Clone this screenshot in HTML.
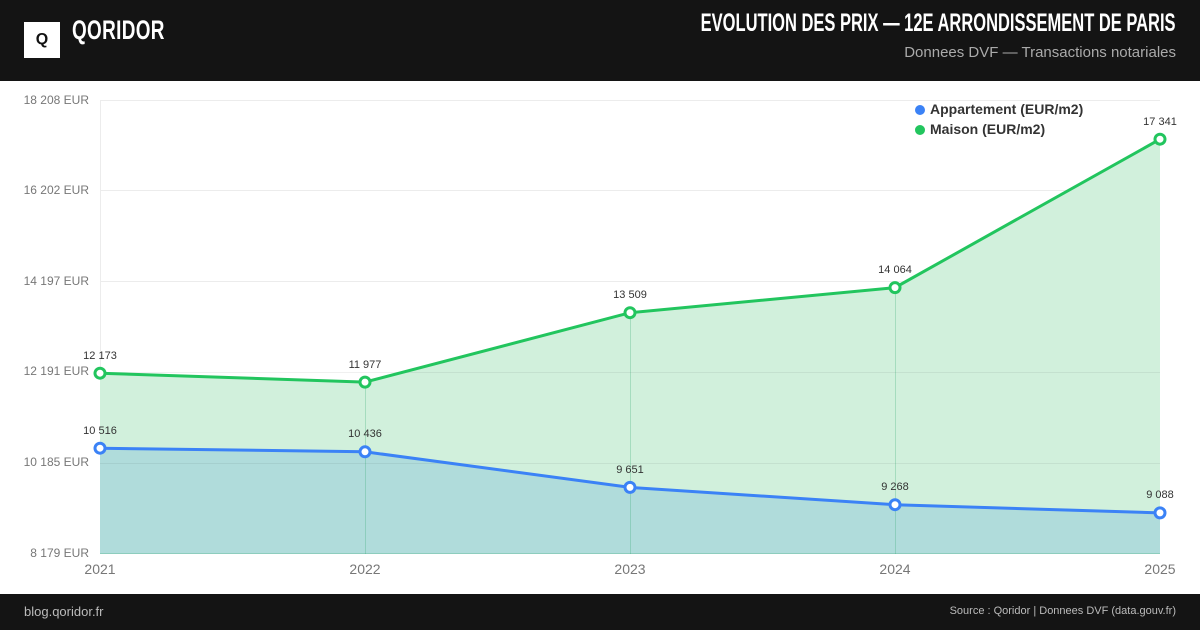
<!DOCTYPE html>
<html><head><meta charset="utf-8"><style>
body{margin:0;width:1200px;height:630px;overflow:hidden;background:#fff;font-family:"Liberation Sans",sans-serif}
.hdr{position:absolute;left:0;top:0;width:1200px;height:81px;background:#141414}
.ftr{position:absolute;left:0;top:594px;width:1200px;height:36px;background:#141414}
</style></head><body>
<div class="hdr">
<div style="position:absolute;left:24px;top:22px;width:36px;height:36px;background:#fff"></div>
<div style="position:absolute;left:24px;top:22px;width:36px;height:36px;text-align:center;line-height:36px;font-weight:bold;font-size:16px;color:#111">Q</div>
<div style="position:absolute;left:72px;top:15px;color:#fff;font-weight:bold;font-size:27px;transform:scaleX(0.7);transform-origin:left;letter-spacing:0.5px">QORIDOR</div>
<div style="position:absolute;right:24px;top:9px;color:#fff;font-weight:bold;font-size:25px;transform:scaleX(0.66);transform-origin:right;white-space:nowrap">EVOLUTION DES PRIX — 12E ARRONDISSEMENT DE PARIS</div>
<div style="position:absolute;right:24px;top:44px;color:#aaa;font-size:15px;white-space:nowrap">Donnees DVF — Transactions notariales</div>
</div>
<svg width="1200" height="630" style="position:absolute;left:0;top:0">
<g stroke="#ececec" stroke-width="1">
<line x1="100" y1="100.5" x2="1160" y2="100.5"/><line x1="100" y1="190.5" x2="1160" y2="190.5"/><line x1="100" y1="281.5" x2="1160" y2="281.5"/>
<line x1="100.5" y1="100" x2="100.5" y2="554"/>
</g>
<polygon fill="#d1f0dc" points="100,373.2 365,382.1 630,312.7 895,287.6 1160,139.2 1160,554 100,554"/>
<polygon fill="#b0dcdb" points="100,448.2 365,451.8 630,487.4 895,504.7 1160,512.9 1160,554 100,554"/>
<g stroke="rgba(0,0,0,0.06)" stroke-width="1">
<line x1="100" y1="372.5" x2="1160" y2="372.5"/><line x1="100" y1="463.5" x2="1160" y2="463.5"/>
</g>
<g stroke="rgba(34,160,100,0.25)" stroke-width="1">
<line x1="365.5" y1="382" x2="365.5" y2="554"/><line x1="630.5" y1="313" x2="630.5" y2="554"/><line x1="895.5" y1="288" x2="895.5" y2="554"/>
<line x1="100" y1="553.5" x2="1160" y2="553.5"/>
</g>
<polyline fill="none" stroke="#22c55e" stroke-width="3" points="100,373.2 365,382.1 630,312.7 895,287.6 1160,139.2"/>
<polyline fill="none" stroke="#3b82f6" stroke-width="3" points="100,448.2 365,451.8 630,487.4 895,504.7 1160,512.9"/>
<g fill="#fff" stroke="#22c55e" stroke-width="3">
<circle cx="100" cy="373.2" r="5"/><circle cx="365" cy="382.1" r="5"/><circle cx="630" cy="312.7" r="5"/><circle cx="895" cy="287.6" r="5"/><circle cx="1160" cy="139.2" r="5"/></g>
<g fill="#fff" stroke="#3b82f6" stroke-width="3">
<circle cx="100" cy="448.2" r="5"/><circle cx="365" cy="451.8" r="5"/><circle cx="630" cy="487.4" r="5"/><circle cx="895" cy="504.7" r="5"/><circle cx="1160" cy="512.9" r="5"/></g>
<g font-family="Liberation Sans,sans-serif" font-size="11" fill="#333" text-anchor="middle">
<text x="100" y="359">12 173</text><text x="365" y="368">11 977</text><text x="630" y="298">13 509</text><text x="895" y="273">14 064</text><text x="1160" y="125">17 341</text>
<text x="100" y="434">10 516</text><text x="365" y="437">10 436</text><text x="630" y="473">9 651</text><text x="895" y="490">9 268</text><text x="1160" y="498">9 088</text>
</g>
<g font-family="Liberation Sans,sans-serif" font-size="12" fill="#777" text-anchor="end">
<text x="89" y="104">18 208 EUR</text><text x="89" y="194">16 202 EUR</text><text x="89" y="285">14 197 EUR</text><text x="89" y="375">12 191 EUR</text><text x="89" y="466">10 185 EUR</text><text x="89" y="557">8 179 EUR</text>
</g>
<g font-family="Liberation Sans,sans-serif" font-size="14" fill="#777" text-anchor="middle">
<text x="100" y="574">2021</text><text x="365" y="574">2022</text><text x="630" y="574">2023</text><text x="895" y="574">2024</text><text x="1160" y="574">2025</text>
</g>
<circle cx="920" cy="110" r="5" fill="#3b82f6"/><circle cx="920" cy="130" r="5" fill="#22c55e"/>
<g font-family="Liberation Sans,sans-serif" font-size="14" font-weight="bold" fill="#333">
<text x="930" y="114">Appartement (EUR/m2)</text><text x="930" y="134">Maison (EUR/m2)</text></g>
</svg>
<div class="ftr">
<div style="position:absolute;left:24px;top:10px;color:#bbb;font-size:13px">blog.qoridor.fr</div>
<div style="position:absolute;right:24px;top:11px;color:#bbb;font-size:11px">Source : Qoridor | Donnees DVF (data.gouv.fr)</div>
</div>
</body></html>
